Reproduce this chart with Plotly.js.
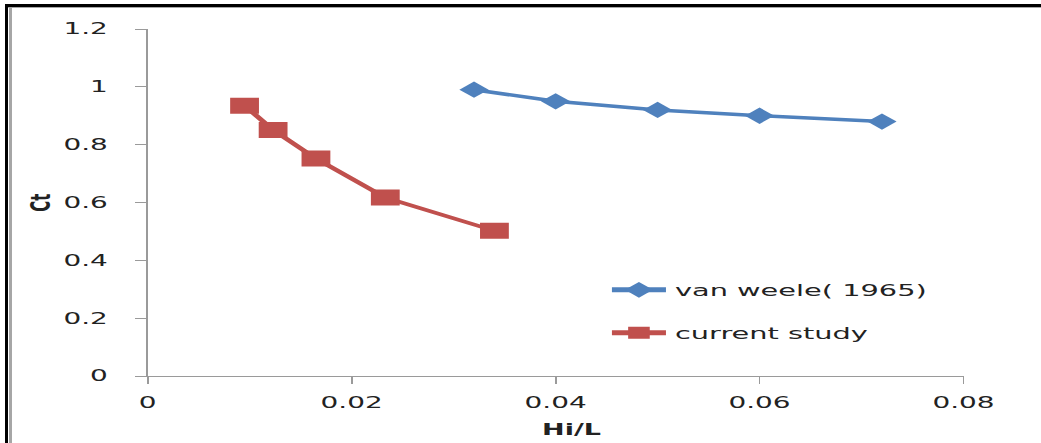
<!DOCTYPE html>
<html>
<head>
<meta charset="utf-8">
<script src="https://cdn.plot.ly/plotly-3.0.1.min.js"></script>
<style>
  html, body { margin: 0; padding: 0; background: #ffffff; }
  #frame { position: relative; width: 1041px; height: 443px; overflow: hidden; background: #ffffff; }
  #plot { position: absolute; left: 0; top: 0; width: 578px; height: 443px;
          transform: scaleX(1.801); transform-origin: 0 0; }
  .edge { position: absolute; }
</style>
</head>
<body>
<div id="frame">
  <div id="plot"></div>
  <div class="edge" style="left:5px; top:4px; width:3px; height:439px; background:#000;"></div>
  <div class="edge" style="left:9px; top:7px; width:3px; height:436px; background:#a6a6a6;"></div>
  <div class="edge" style="left:5px; top:4px; width:1036px; height:3px; background:#000;"></div>
  <div class="edge" style="left:8px; top:7px; width:1033px; height:1px; background:#a6a6a6;"></div>
</div>
<script>
// Transmission coefficient Ct against wave steepness Hi/L
const vanWeeleX = [0.032, 0.040, 0.050, 0.060, 0.072];
const vanWeeleY = [0.99, 0.95, 0.92, 0.90, 0.88];

const currentX = [0.0095, 0.0123, 0.0165, 0.0233, 0.0340];
const currentY = [0.935, 0.851, 0.752, 0.617, 0.502];

const xTickVals = [0, 0.02, 0.04, 0.06, 0.08];
const yTickVals = [0, 0.2, 0.4, 0.6, 0.8, 1, 1.2];

const blue = '#4F81BD';
const red = '#C0504D';
const textColor = '#222222';
const axisGray = '#9a9a9a';
const font = 'DejaVu Sans, Verdana, sans-serif';

const traces = [
  {
    x: vanWeeleX, y: vanWeeleY, name: 'van weele( 1965)',
    type: 'scatter', mode: 'lines+markers',
    line: { color: blue, width: 3.5 },
    marker: { symbol: 'diamond', size: 12.5, color: blue },
    legend: 'legend'
  },
  {
    x: currentX, y: currentY, name: 'current study',
    type: 'scatter', mode: 'lines+markers',
    line: { color: red, width: 3.5 },
    marker: { symbol: 'square', size: 16, color: red },
    legend: 'legend2'
  }
];

const legendCommon = {
  xanchor: 'left', yanchor: 'middle',
  bgcolor: 'rgba(0,0,0,0)', borderwidth: 0,
  itemsizing: 'constant',
  font: { family: font, size: 16, color: textColor }
};

const layout = {
  width: 578, height: 443,
  margin: { l: 82, r: 43, t: 29, b: 67 },
  paper_bgcolor: 'rgba(0,0,0,0)', plot_bgcolor: 'rgba(0,0,0,0)',
  showlegend: true,
  legend: Object.assign({ x: 0.558, y: 0.248 }, legendCommon),
  legend2: Object.assign({ x: 0.558, y: 0.124 }, legendCommon),
  xaxis: {
    range: [0, 0.08], tickvals: xTickVals,
    showgrid: false, zeroline: false,
    showline: true, linecolor: axisGray, linewidth: 1,
    ticks: 'outside', ticklen: 7, tickcolor: axisGray, tickwidth: 1,
    ticklabelstandoff: 5,
    tickfont: { family: font, size: 15.5, color: textColor }
  },
  yaxis: {
    range: [0, 1.2], tickvals: yTickVals,
    showgrid: false, zeroline: false,
    showline: true, linecolor: axisGray, linewidth: 1,
    ticks: 'outside', ticklen: 6, tickcolor: axisGray, tickwidth: 1,
    ticklabelstandoff: 12,
    tickfont: { family: font, size: 15.5, color: textColor }
  },
  annotations: [
    {
      text: '<b>Hi/L</b>', xref: 'paper', yref: 'paper',
      x: 0.519, y: -0.156, xanchor: 'center', yanchor: 'middle',
      showarrow: false, font: { family: font, size: 15, color: textColor }
    },
    {
      text: '<b>Ct</b>', xref: 'paper', yref: 'paper',
      x: -0.132, y: 0.5, xanchor: 'center', yanchor: 'middle', textangle: -90,
      showarrow: false, font: { family: font, size: 15, color: textColor }
    }
  ]
};

Plotly.newPlot('plot', traces, layout, { displayModeBar: false, staticPlot: true });
</script>
</body>
</html>
